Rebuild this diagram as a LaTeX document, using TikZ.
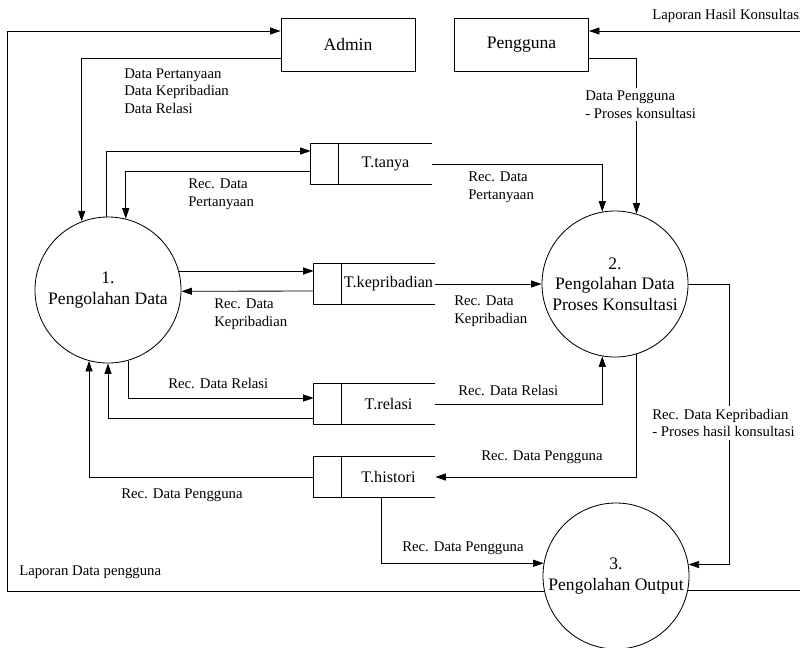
\documentclass[tikz,border=0pt]{standalone}
\usepackage{fontspec}
\setmainfont{Liberation Serif}
\usetikzlibrary{arrows.meta,calc}

\tikzset{
  flow/.style={-{Triangle[length=7.5pt,width=5pt]}, line width=0.6pt},
  proc/.style={draw, circle, line width=0.6pt, minimum size=3.65cm, inner sep=0pt, align=center, font=\fontsize{12.5}{14.5}\selectfont},
  ent/.style={draw, line width=0.6pt, minimum width=3.35cm, minimum height=1.325cm, font=\fontsize{12.5}{14.5}\selectfont},
  store/.style={minimum width=3.025cm, minimum height=1cm, inner sep=0pt, font=\fontsize{11.5}{13}\selectfont},
  lbl/.style={inner sep=0pt, anchor=west, align=left, font=\fontsize{10.5}{12.5}\selectfont},
}

\begin{document}
\begin{tikzpicture}[x=0.025cm, y=-0.025cm]
    \useasboundingbox (0,0) rectangle (800,647);

    % Entitas
    \node[ent] (admin) at (348,44.5) {Admin};
    \node[ent] (user) at (521.5,44.5) {Pengguna};

    % Proses
    \node[proc] (p1) at (108,290) {1.\\Pengolahan Data};
    \node[proc] (p2) at (615,284) {2.\\Pengolahan Data\\Proses Konsultasi};
    \node[proc] (p3) at (616,576) {3.\\Pengolahan Output};

    % Data store
    \node[store] (tanya) at (371.5,164) {\hspace*{0.7cm}T.tanya};
    \node[store] (kep) at (374.5,284) {\hspace*{0.7cm}T.kepribadian};
    \node[store] (rel) at (374.5,404) {\hspace*{0.7cm}T.relasi};
    \node[store] (his) at (374.5,477) {\hspace*{0.7cm}T.histori};
    \foreach \s in {tanya,kep,rel,his} {
        \draw[line width=0.6pt] (\s.north east) -- (\s.north west) -- (\s.south west) -- (\s.south east);
        \draw[line width=0.6pt] ([xshift=0.7cm]\s.north west) -- ([xshift=0.7cm]\s.south west);
    }

    % Ujung luar
    \coordinate (lb) at (7,31);
    \coordinate (rb) at (810,31);

    % Admin / Pengguna
    \draw[flow] ($(admin.west)+(0,13.5)$) -| (p1.111.7);
    \draw[flow] ($(user.east)+(0,13.5)$) -| (p2.73.3);
    \node[lbl] (ladmin) at (124,91) {Data Pertanyaan\\Data Kepribadian\\Data Relasi};
    \node[lbl, fill=white, inner ysep=2pt] (luser) at (585,104.5) {Data Pengguna\\- Proses konsultasi};

    % T.tanya
    \draw[flow] (p1.91) |- ($(tanya.west)+(0,-13)$);
    \draw[flow] ($(tanya.west)+(0,7)$) -| (p1.76.5);
    \draw[flow] (tanya.east) -| (p2.100.3);
    \node[lbl] (ltanya1) at (188,194.5) {Rec. Data\\Pertanyaan};
    \node[lbl] (ltanya2) at (468,187) {Rec. Data\\Pertanyaan};

    % T.kepribadian
    \draw[flow] (p1.15.1) -- (p1.15.1 -| kep.west);
    \draw[flow] ($(kep.west)+(0,7)$) -- (p1.-1);
    \draw[flow] (kep.east) -- (p2.west);
    \node[lbl] (lkep1) at (214,314.5) {Rec. Data\\Kepribadian};
    \node[lbl] (lkep2) at (454,311) {Rec. Data\\Kepribadian};

    % T.relasi
    \draw[flow] (p1.-74.1) |- ($(rel.west)+(0,-6)$);
    \draw[flow] ($(rel.west)+(0,14)$) -| (p1.-90.8);
    \draw[flow] (rel.east) -| (p2.-100.3);
    \node[lbl] (lrel1) at (168,383) {Rec. Data Relasi};
    \node[lbl] (lrel2) at (458,390) {Rec. Data Relasi};

    % T.histori
    \draw[flow] (p2.-73.3) |- (his.east);
    \draw[flow] (his.west) -| (p1.-105.9);
    \draw[flow] ($(his.south)+(6.5,0)$) |- (p3.170.5);
    \node[lbl] (lhis1) at (481,457) {Rec. Data Pengguna};
    \node[lbl] (lhis2) at (121,495) {Rec. Data Pengguna};
    \node[lbl] (lhis3) at (402,548) {Rec. Data Pengguna};

    % Proses 2 ke proses 3
    \draw[flow] (p2.east) -- ++(41,0) |- (p3.9.5);
    \node[lbl, fill=white, inner ysep=2pt] (lout) at (652,423) {Rec. Data Kepribadian\\- Proses hasil konsultasi};

    % Laporan
    \draw[flow] (p3.-168.9) -| (lb) -- (lb -| admin.west);
    \draw[flow] (p3.-11.1) -| (rb) -- (rb -| user.east);
    \node[lbl] (llap1) at (19,572) {Laporan Data pengguna};
    \node[lbl] (llap2) at (652,16) {Laporan Hasil Konsultasi};

\end{tikzpicture}
\end{document}
